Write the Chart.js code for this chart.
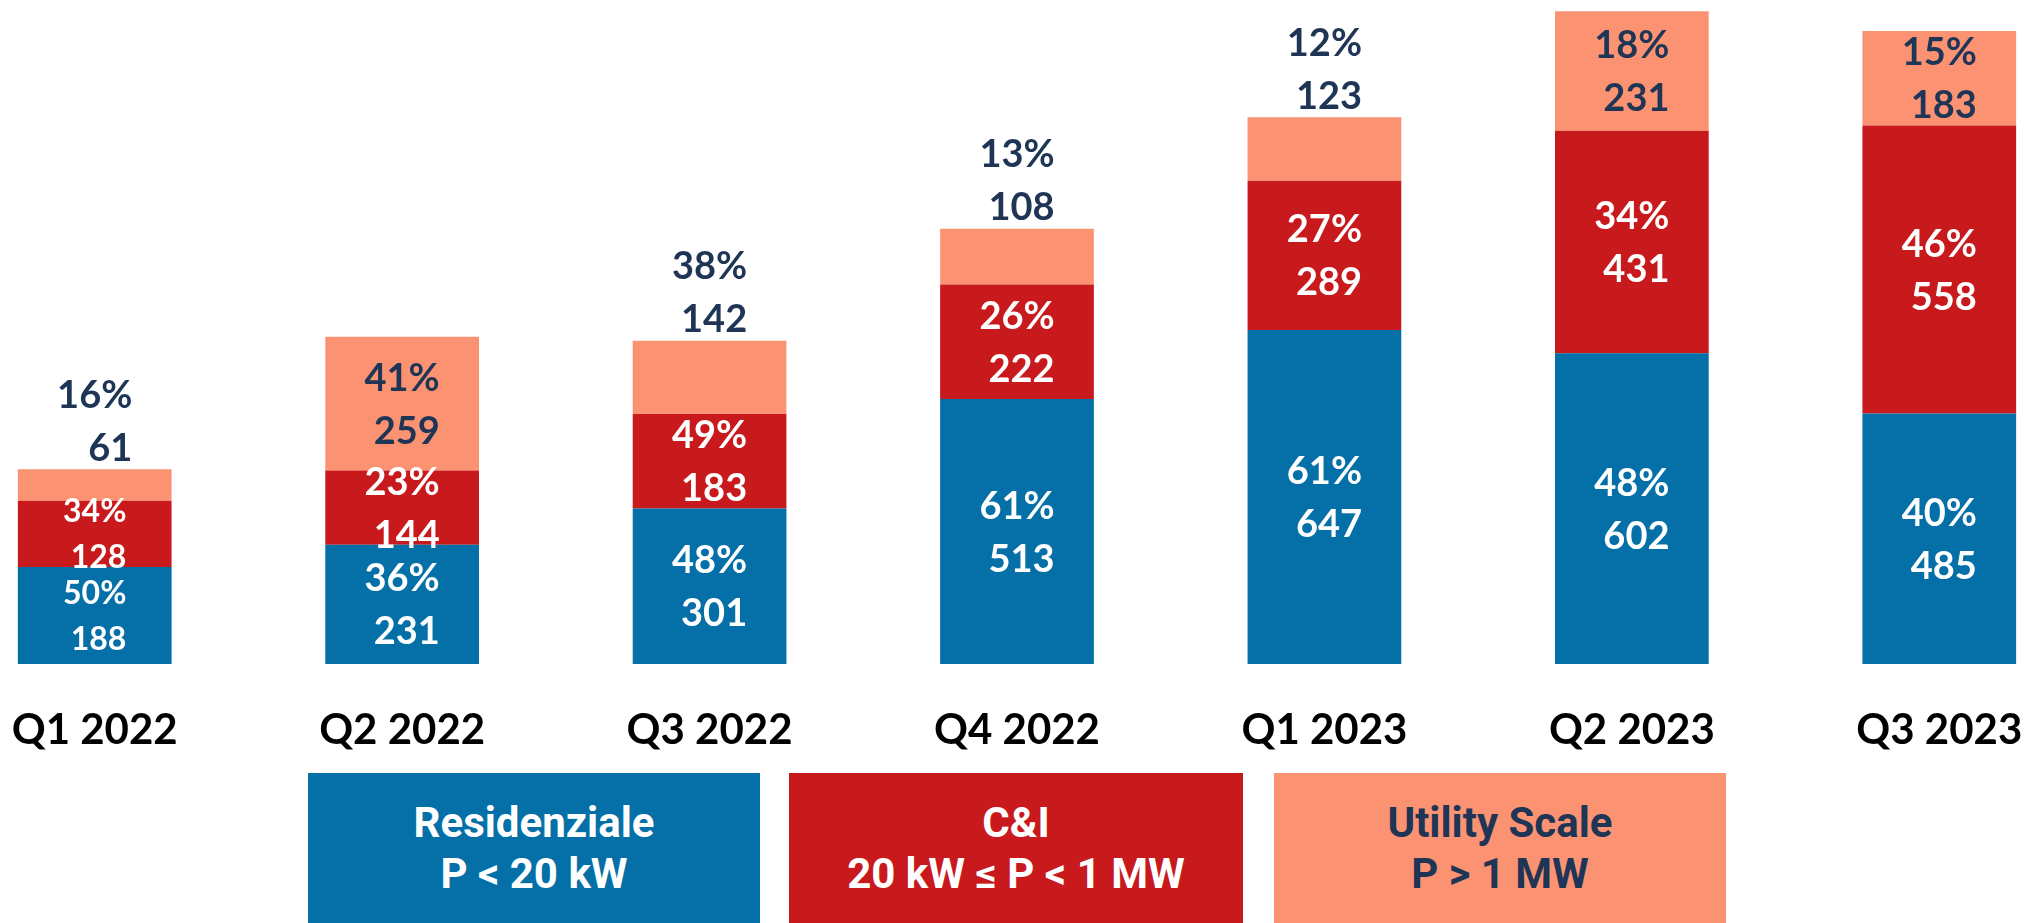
<!DOCTYPE html>
<html>
<head>
<meta charset="utf-8">
<script src="https://cdn.jsdelivr.net/npm/chart.js@4.4.0/dist/chart.umd.min.js"></script>
<style>
html,body{margin:0;padding:0;background:#fff;width:2025px;height:923px;overflow:hidden;position:relative;}
#wrap{position:absolute;left:-59px;top:0;width:2152px;height:770px;}
.leg{position:absolute;top:773px;height:150px;box-sizing:border-box;padding-top:24px;text-align:center;font-family:Roboto,sans-serif;font-weight:700;font-size:42px;line-height:51px;}
</style>
</head>
<body>
<div id="wrap"><canvas id="c" width="2152" height="770"></canvas></div>
<div id="legend"></div>
<script>
// ---- data ----
const categories = ['Q1 2022','Q2 2022','Q3 2022','Q4 2022','Q1 2023','Q2 2023','Q3 2023'];
const residenziale = [188, 231, 301, 513, 647, 602, 485];
const ci = [128, 144, 183, 222, 289, 431, 558];
const utility = [61, 259, 142, 108, 123, 231, 183];
const pctResidenziale = ['50%','36%','48%','61%','61%','48%','40%'];
const pctCI = ['34%','23%','49%','26%','27%','34%','46%'];
const pctUtility = ['16%','41%','38%','13%','12%','18%','15%'];
const seriesNames = ['Residenziale','C&I','Utility Scale'];
const seriesRanges = ['P < 20 kW','20 kW ≤ P < 1 MW','P > 1 MW'];

// ---- styles ----
const colors = ['#0470A7','#C8191D','#FB9373'];
const textColors = ['#FFFFFF','#FFFFFF','#1F3556'];
const legendLefts = [308, 789, 1274];
const legendWidths = [452, 454, 452];

// legend (HTML)
const legEl = document.getElementById('legend');
seriesNames.forEach((name, i) => {
  const d = document.createElement('div');
  d.className = 'leg';
  d.style.left = legendLefts[i] + 'px';
  d.style.width = legendWidths[i] + 'px';
  d.style.background = colors[i];
  d.style.color = textColors[i];
  const l1 = document.createElement('div'); l1.textContent = name;
  const l2 = document.createElement('div'); l2.textContent = seriesRanges[i];
  d.appendChild(l1); d.appendChild(l2);
  legEl.appendChild(d);
});

const labelPlugin = {
  id: 'segLabels',
  afterDatasetsDraw(chart) {
    const ctx = chart.ctx;
    const n = chart.data.datasets.length;
    chart.data.datasets.forEach((ds, di) => {
      const meta = chart.getDatasetMeta(di);
      meta.data.forEach((bar, j) => {
        const total = chart.data.datasets.reduce((s, d) => s + d.data[j], 0);
        const small = total < 400;
        const top = Math.min(bar.y, bar.base), bottom = Math.max(bar.y, bar.base);
        const h = bottom - top;
        const outside = (di === n - 1) && h < 90;
        const fs = (small && !outside) ? 32 : 38;
        const sp = (small && !outside) ? 46 : 53;
        const cap = fs * 0.7165;
        let c1, c2;
        if (outside) { c2 = top - 22; c1 = c2 - sp; }
        else { const mid = (top + bottom) / 2; c1 = mid - sp / 2; c2 = mid + sp / 2; }
        ctx.save();
        ctx.font = '700 ' + fs + 'px Lato';
        ctx.fillStyle = ds.labelColor;
        ctx.textBaseline = 'alphabetic';
        const pct = ds.pct[j];
        const w = ctx.measureText(pct).width;
        const right = bar.x + w / 2;
        ctx.textAlign = 'right';
        ctx.fillText(pct, right, c1 + cap / 2);
        ctx.fillText(String(ds.data[j]), right, c2 + cap / 2);
        ctx.restore();
      });
    });
  }
};

function build() {
  new Chart(document.getElementById('c'), {
    type: 'bar',
    data: {
      labels: categories,
      datasets: [
        { label: seriesNames[0], data: residenziale, pct: pctResidenziale, labelColor: textColors[0], backgroundColor: colors[0] },
        { label: seriesNames[1], data: ci, pct: pctCI, labelColor: textColors[1], backgroundColor: colors[1] },
        { label: seriesNames[2], data: utility, pct: pctUtility, labelColor: textColors[2], backgroundColor: colors[2] }
      ].map(d => Object.assign(d, { borderWidth: 0, barPercentage: 0.5, categoryPercentage: 1 }))
    },
    options: {
      responsive: false,
      animation: false,
      layout: { padding: 0 },
      plugins: { legend: { display: false }, tooltip: { enabled: false } },
      scales: {
        x: {
          stacked: true,
          grid: { display: false, drawTicks: false },
          border: { display: false },
          ticks: { color: '#000', font: { family: 'Lato', weight: '700', size: 42 }, padding: 41, maxRotation: 0, autoSkip: false },
          afterFit: s => { s.height = 106; }
        },
        y: { stacked: true, display: false, min: 0, max: 1286 }
      }
    },
    plugins: [labelPlugin]
  });
}
Promise.all([
  document.fonts.load('700 38px Lato'),
  document.fonts.load('700 42px Roboto')
]).then(build, build);
</script>
</body>
</html>
